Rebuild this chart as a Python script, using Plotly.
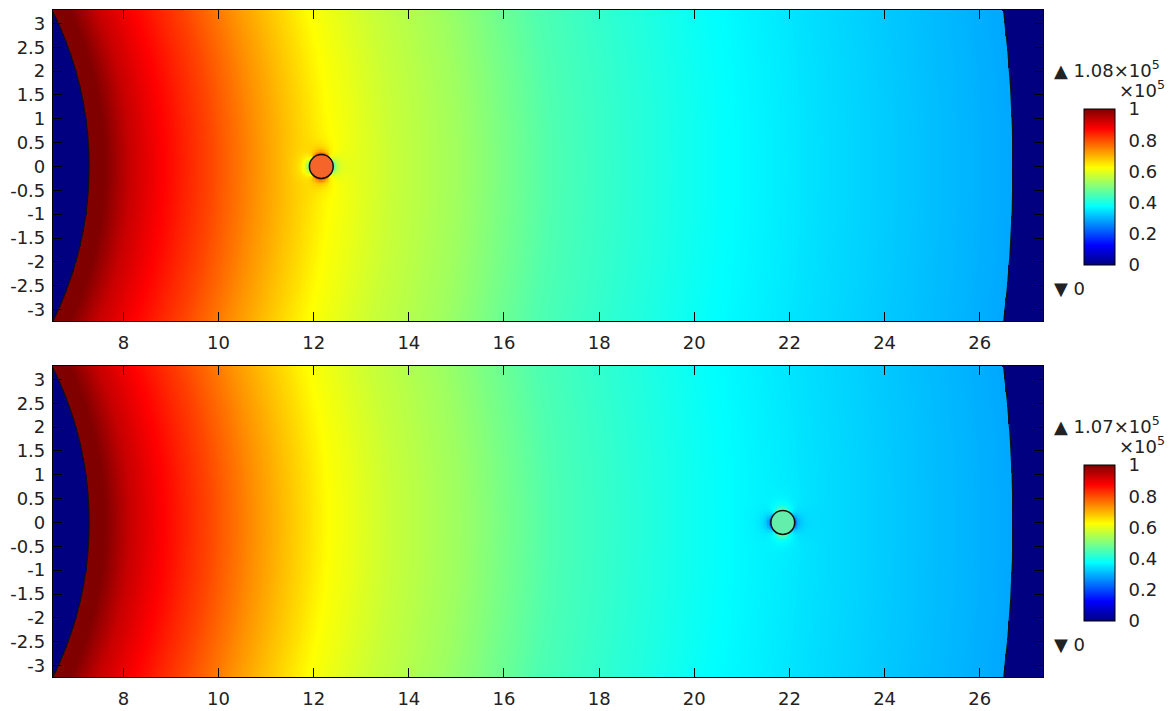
import numpy as np
import plotly.graph_objects as go

# ---------------- data ----------------
X_RANGE = [6.52, 27.33]
Y_RANGE = [-3.24, 3.28]
X_TICKS = [8, 10, 12, 14, 16, 18, 20, 22, 24, 26]
X_TICK_LABELS = ["8", "10", "12", "14", "16", "18", "20", "22", "24", "26"]
Y_TICKS = [-3, -2.5, -2, -1.5, -1, -0.5, 0, 0.5, 1, 1.5, 2, 2.5, 3]
Y_TICK_LABELS = ["-3", "-2.5", "-2", "-1.5", "-1", "-0.5", "0", "0.5", "1", "1.5", "2", "2.5", "3"]
CB_TICKS = [0, 0.2, 0.4, 0.6, 0.8, 1]
CB_TICK_LABELS = ["0", "0.2", "0.4", "0.6", "0.8", "1"]
CB_MARKS = [0.2, 0.4, 0.6, 0.8]

R_INNER = 7.28
R_OUTER = 26.7

PROFILE_R = [7.28, 7.6, 8.14, 8.83, 9.84, 10.87, 12.33, 13.65, 15.04, 17.0, 18.75, 20.72, 22.6, 24.7, 26.7]
PROFILE_P_TOP = [1.08, 1.0, 0.93, 0.875, 0.807, 0.728, 0.625, 0.571, 0.532, 0.453, 0.415, 0.375, 0.345, 0.316, 0.29]
PROFILE_P_BOTTOM = [1.07, 1.0, 0.93, 0.875, 0.805, 0.726, 0.624, 0.57, 0.53, 0.452, 0.414, 0.374, 0.344, 0.315, 0.29]

PARTICLE_X = [12.16, 21.86]
PARTICLE_Y = [0.0, 0.0]
PARTICLE_RADIUS = [0.25, 0.25]
PARTICLE_COLORS = ["rgb(245,100,40)", "rgb(100,238,172)"]
HALO_AMPLITUDE = [0.22, 0.17]
MAX_LABELS = ["1.08", "1.07"]
MIN_LABELS = ["0", "0"]

JET = [[0.0, "rgb(0,0,128)"], [0.125, "rgb(0,0,255)"], [0.375, "rgb(0,255,255)"],
       [0.625, "rgb(255,255,0)"], [0.875, "rgb(255,0,0)"], [1.0, "rgb(128,0,0)"]]

# ---------------- layout geometry (pixels) ----------------
W, H = 1170, 711
ML, MR, MT, MB = 53, 127, 10, 34
PW, PH = W - ML - MR, H - MT - MB
PANEL_TOPS = [10, 366]
PANEL_H = 311
CB_LEFT, CB_THICK, CB_LEN = 1084, 31, 156
FONT = dict(family="DejaVu Sans", size=18, color="#222")


def py2paper(py):
    return (H - MB - py) / PH


def px2paper(px):
    return (px - ML) / PW


STEP = 0.03
xs = np.arange(X_RANGE[0] - STEP, X_RANGE[1] + STEP, STEP)
ys = np.arange(Y_RANGE[0] - STEP, Y_RANGE[1] + STEP, STEP)
XX, YY = np.meshgrid(xs, ys)
RR = np.sqrt(XX ** 2 + YY ** 2)


def field(profile, k):
    z = np.interp(RR, PROFILE_R, profile)
    dx = XX - PARTICLE_X[k]
    dy = YY - PARTICLE_Y[k]
    rho = np.sqrt(dx ** 2 + dy ** 2)
    a = PARTICLE_RADIUS[k]
    rho_c = np.maximum(rho, a)
    cos2 = (dx ** 2 - dy ** 2) / np.maximum(rho ** 2, 1e-9)
    z = z - HALO_AMPLITUDE[k] * cos2 * (a / rho_c) ** 4
    z[(RR < R_INNER) | (RR > R_OUTER)] = 0.0
    return np.round(z, 3)


fig = go.Figure()
profiles = [PROFILE_P_TOP, PROFILE_P_BOTTOM]
axis_names = [("x", "y"), ("x2", "y2")]

for k in range(2):
    top_px = PANEL_TOPS[k]
    cb_top = top_px + 99
    fig.add_trace(go.Heatmap(
        x=xs, y=ys, z=field(profiles[k], k),
        xaxis=axis_names[k][0], yaxis=axis_names[k][1],
        colorscale=JET, zmin=0, zmax=1, hoverinfo="skip",
        colorbar=dict(
            x=px2paper(CB_LEFT), xanchor="left", xpad=0,
            y=py2paper(cb_top), yanchor="top", ypad=0,
            len=CB_LEN, lenmode="pixels", thickness=CB_THICK, thicknessmode="pixels",
            outlinewidth=1, outlinecolor="black",
            tickvals=CB_TICKS, ticktext=CB_TICK_LABELS,
            ticks="outside", ticklen=10, tickcolor="rgba(0,0,0,0)", tickwidth=1,
            tickfont=FONT,
        ),
    ))

    # inner tick marks on both sides of the colour bar
    for v in CB_MARKS:
        yy = py2paper(cb_top + (1 - v) * CB_LEN)
        for x0, x1 in ((CB_LEFT, CB_LEFT + 5), (CB_LEFT + CB_THICK - 5, CB_LEFT + CB_THICK)):
            fig.add_shape(type="line", xref="paper", yref="paper",
                          x0=px2paper(x0), x1=px2paper(x1), y0=yy, y1=yy,
                          line=dict(color="black", width=1))

    xref, yref = axis_names[k]
    for r in (R_INNER, R_OUTER):
        fig.add_shape(type="circle", xref=xref, yref=yref, x0=-r, x1=r, y0=-r, y1=r,
                      line=dict(color="#111", width=1.2))
    a = PARTICLE_RADIUS[k]
    fig.add_shape(type="circle", xref=xref, yref=yref,
                  x0=PARTICLE_X[k] - a, x1=PARTICLE_X[k] + a,
                  y0=PARTICLE_Y[k] - a, y1=PARTICLE_Y[k] + a,
                  fillcolor=PARTICLE_COLORS[k], line=dict(color="#111", width=1.5))

    fig.add_annotation(xref="paper", yref="paper", x=px2paper(1052), y=py2paper(top_px + 59),
                       xanchor="left", yanchor="middle", showarrow=False,
                       text="▲ " + MAX_LABELS[k] + "×10<sup>5</sup>", font=FONT)
    fig.add_annotation(xref="paper", yref="paper", x=px2paper(1167), y=py2paper(top_px + 79),
                       xanchor="right", yanchor="middle", showarrow=False,
                       text="×10<sup>5</sup>", font=FONT)
    fig.add_annotation(xref="paper", yref="paper", x=px2paper(1052), y=py2paper(top_px + 278),
                       xanchor="left", yanchor="middle", showarrow=False,
                       text="▼ " + MIN_LABELS[k], font=FONT)

axis_common = dict(showline=True, linecolor="black", linewidth=1.2, mirror="ticks",
                   ticks="inside", ticklen=9, tickcolor="black", tickwidth=1.2,
                   showgrid=False, zeroline=False, tickfont=FONT)

doms = [[py2paper(PANEL_TOPS[0] + PANEL_H), 1.0], [0.0, py2paper(PANEL_TOPS[1])]]
fig.update_layout(
    width=W, height=H, margin=dict(l=ML, r=MR, t=MT, b=MB, autoexpand=False),
    paper_bgcolor="white", plot_bgcolor="white",
    xaxis=dict(range=X_RANGE, tickvals=X_TICKS, ticktext=X_TICK_LABELS, anchor="y",
               ticklabelstandoff=5, **axis_common),
    yaxis=dict(range=Y_RANGE, tickvals=Y_TICKS, ticktext=Y_TICK_LABELS, domain=doms[0], anchor="x",
               ticklabelstandoff=3, **axis_common),
    xaxis2=dict(range=X_RANGE, tickvals=X_TICKS, ticktext=X_TICK_LABELS, anchor="y2",
                ticklabelstandoff=5, **axis_common),
    yaxis2=dict(range=Y_RANGE, tickvals=Y_TICKS, ticktext=Y_TICK_LABELS, domain=doms[1], anchor="x2",
                ticklabelstandoff=3, **axis_common),
    showlegend=False,
)

fig.write_html("out.html")
